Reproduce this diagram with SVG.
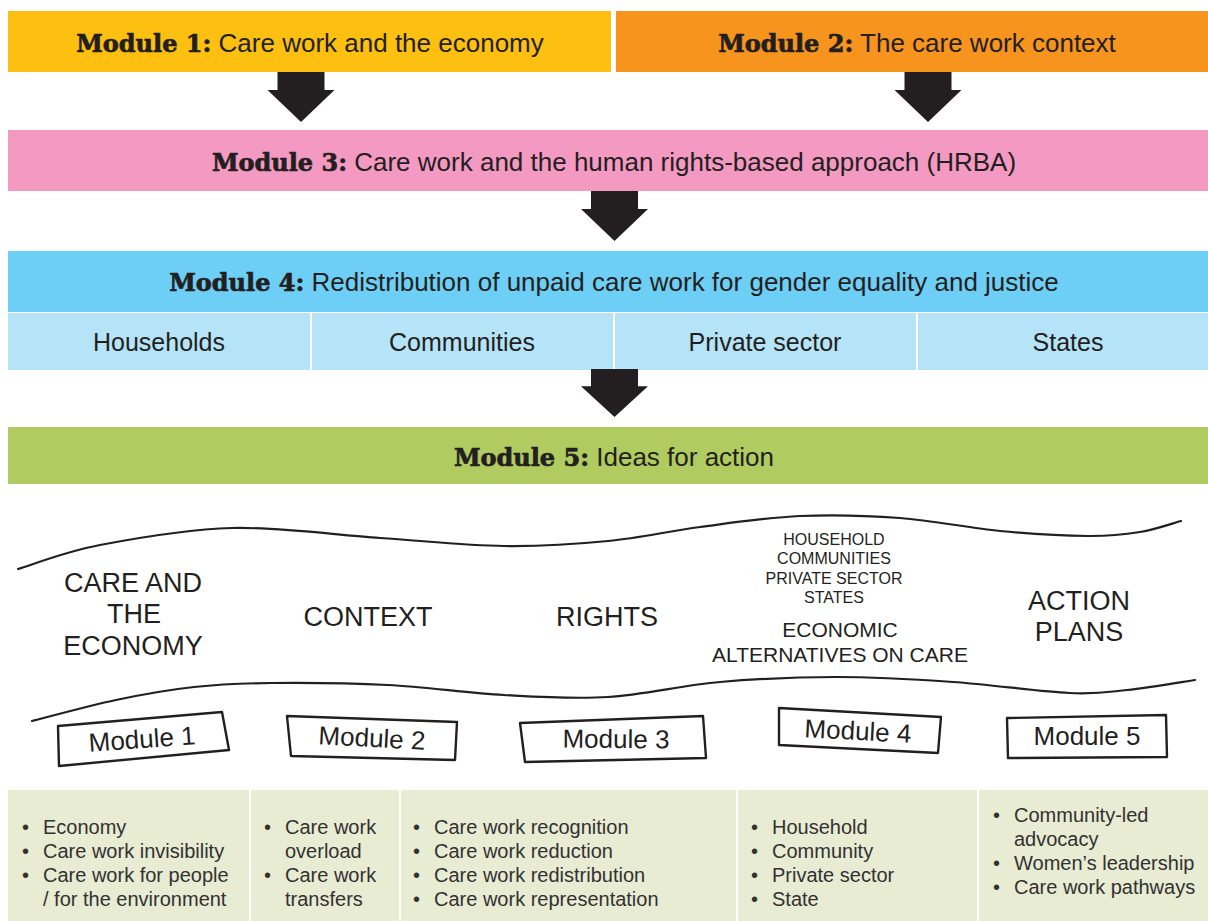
<svg xmlns="http://www.w3.org/2000/svg" width="1208" height="921" viewBox="0 0 1208 921">
<style>
.hd{font-family:"Liberation Sans",Arial,sans-serif;font-size:26px;fill:#231F20}
.hb{font-family:"DejaVu Serif",serif;font-weight:bold;font-size:24px;stroke:#231F20;stroke-width:0.7}
.sub{font-family:"Liberation Sans",Arial,sans-serif;font-size:25px;fill:#231F20;text-anchor:middle}
.hand{font-family:"Liberation Sans",Arial,sans-serif;fill:#231F20;text-anchor:middle}
.wave{fill:none;stroke:#231F20;stroke-width:2.2;stroke-linecap:round;stroke-linejoin:round}
.box{fill:#fff;stroke:#231F20;stroke-width:2.4;stroke-linejoin:round}
.lst{font-family:"Liberation Sans",Arial,sans-serif;font-size:20px;fill:#333132}
.div{stroke:#fff;stroke-width:2}
</style>
<defs>
<path id="arr" d="M-23.5,0 H23.5 V18 H33.5 L0,50 L-33.5,18 H-23.5 Z" fill="#231F20"/>
</defs>

<g id="module1">
<rect x="8" y="11" width="603" height="61" fill="#FDC010"/>
<text class="hd" x="310" y="51.5" text-anchor="middle"><tspan class="hb">Module 1:</tspan> Care work and the economy</text>
</g>
<g id="module2">
<rect x="616" y="11" width="592" height="61" fill="#F7941E"/>
<text class="hd" x="917" y="51.5" text-anchor="middle"><tspan class="hb">Module 2:</tspan> The care work context</text>
</g>
<g id="module3">
<rect x="8" y="130" width="1200" height="61" fill="#F49AC2"/>
<text class="hd" x="614" y="170.5" text-anchor="middle"><tspan class="hb">Module 3:</tspan> Care work and the human rights-based approach (HRBA)</text>
</g>
<g id="module4">
<rect x="8" y="251" width="1200" height="61" fill="#6DCFF6"/>
<text class="hd" x="614" y="291" text-anchor="middle"><tspan class="hb">Module 4:</tspan> Redistribution of unpaid care work for gender equality and justice</text>
<rect x="8" y="313" width="1200" height="57" fill="#B5E4F8"/>
<line class="div" x1="311" y1="313" x2="311" y2="370"/>
<line class="div" x1="614" y1="313" x2="614" y2="370"/>
<line class="div" x1="917" y1="313" x2="917" y2="370"/>
<text class="sub" x="159" y="351">Households</text>
<text class="sub" x="462" y="351">Communities</text>
<text class="sub" x="765" y="351">Private sector</text>
<text class="sub" x="1068" y="351">States</text>
</g>
<g id="module5">
<rect x="8" y="427" width="1200" height="57" fill="#B0CB5F"/>
<text class="hd" x="614" y="466" text-anchor="middle"><tspan class="hb">Module 5:</tspan> Ideas for action</text>
</g>

<g id="connectors">
<use href="#arr" transform="translate(301,72)"/>
<use href="#arr" transform="translate(928,72)"/>
<use href="#arr" transform="translate(614.5,191)"/>
<use href="#arr" transform="translate(614.5,369) scale(1,0.96)"/>
</g>

<g id="sketch">
<path class="wave" d="M18,569 C31.7,565 64.3,551.8 100,545 C135.7,538.2 185.3,529.2 232,528 C278.7,526.8 334.7,535 380,538 C425.3,541 466,545.5 504,546 C542,546.5 575.3,544.2 608,541 C640.7,537.8 668,531.2 700,527 C732,522.8 766.7,517.5 800,516 C833.3,514.5 866.7,515.5 900,518 C933.3,520.5 968.7,528 1000,531 C1031.3,534 1064.7,535.8 1088,536 C1111.3,536.2 1124.5,534.5 1140,532 C1155.5,529.5 1174.2,522.8 1181,521"/>
<path class="wave" d="M32,721 C46,717.5 89,705.7 116,700 C143,694.3 168.2,689.8 194,687 C219.8,684.2 238.7,683.3 271,683 C303.3,682.7 349.2,683 388,685 C426.8,687 467.3,693 504,695 C540.7,697 572,699.2 608,697 C644,694.8 682,685.3 720,682 C758,678.7 797.2,677 836,677 C874.8,677 914.2,679.3 953,682 C991.8,684.7 1040,691.7 1069,693 C1098,694.3 1106,692.2 1127,690 C1148,687.8 1183.7,681.7 1195,680"/>
<text class="hand" font-size="27" x="133" y="592">CARE AND</text>
<text class="hand" font-size="27" x="134" y="623">THE</text>
<text class="hand" font-size="27" x="133" y="655">ECONOMY</text>
<text class="hand" font-size="27" x="368" y="626">CONTEXT</text>
<text class="hand" font-size="27" x="607" y="626">RIGHTS</text>
<text class="hand" font-size="16" x="834" y="545">HOUSEHOLD</text>
<text class="hand" font-size="16" x="834" y="564">COMMUNITIES</text>
<text class="hand" font-size="16" x="834" y="584">PRIVATE SECTOR</text>
<text class="hand" font-size="16" x="834" y="603">STATES</text>
<text class="hand" font-size="21" x="840" y="637">ECONOMIC</text>
<text class="hand" font-size="21" x="840" y="662">ALTERNATIVES ON CARE</text>
<text class="hand" font-size="27" x="1079" y="610">ACTION</text>
<text class="hand" font-size="27" x="1079" y="641">PLANS</text>
</g>

<g id="label1">
<path class="box" d="M58,726 L222,712 L229,750 L59,766 Z"/>
<text class="hand" font-size="26" transform="translate(142,739) rotate(-4)" y="9">Module 1</text>
</g>
<g id="label2">
<path class="box" d="M287,716 L457,722 L455,760 L291,756 Z"/>
<text class="hand" font-size="26" transform="translate(372,738) rotate(3)" y="9">Module 2</text>
</g>
<g id="label3">
<path class="box" d="M520,723 L703,716 L706,758 L525,762 Z"/>
<text class="hand" font-size="26" transform="translate(616,739) rotate(0.5)" y="9">Module 3</text>
</g>
<g id="label4">
<path class="box" d="M779,708 L941,717 L938,753 L779,745 Z"/>
<text class="hand" font-size="26" transform="translate(858,731) rotate(3)" y="9">Module 4</text>
</g>
<g id="label5">
<path class="box" d="M1007,718 L1166,715 L1167,757 L1008,758 Z"/>
<text class="hand" font-size="26" transform="translate(1087,736)" y="9">Module 5</text>
</g>

<g id="table">
<rect x="8" y="790" width="1200" height="131" fill="#E7ECD3"/>
<line class="div" x1="250" y1="790" x2="250" y2="921"/>
<line class="div" x1="400" y1="790" x2="400" y2="921"/>
<line class="div" x1="737" y1="790" x2="737" y2="921"/>
<line class="div" x1="978" y1="790" x2="978" y2="921"/>
<g class="lst">
<text x="22" y="834">•</text><text x="43" y="834">Economy</text>
<text x="22" y="858">•</text><text x="43" y="858">Care work invisibility</text>
<text x="22" y="882">•</text><text x="43" y="882">Care work for people</text>
<text x="43" y="906">/ for the environment</text>

<text x="264" y="834">•</text><text x="285" y="834">Care work</text>
<text x="285" y="858">overload</text>
<text x="264" y="882">•</text><text x="285" y="882">Care work</text>
<text x="285" y="906">transfers</text>

<text x="413" y="834">•</text><text x="434" y="834">Care work recognition</text>
<text x="413" y="858">•</text><text x="434" y="858">Care work reduction</text>
<text x="413" y="882">•</text><text x="434" y="882">Care work redistribution</text>
<text x="413" y="906">•</text><text x="434" y="906">Care work representation</text>

<text x="751" y="834">•</text><text x="772" y="834">Household</text>
<text x="751" y="858">•</text><text x="772" y="858">Community</text>
<text x="751" y="882">•</text><text x="772" y="882">Private sector</text>
<text x="751" y="906">•</text><text x="772" y="906">State</text>

<text x="993" y="822">•</text><text x="1014" y="822">Community-led</text>
<text x="1014" y="846">advocacy</text>
<text x="993" y="870">•</text><text x="1014" y="870">Women’s leadership</text>
<text x="993" y="894">•</text><text x="1014" y="894">Care work pathways</text>
</g>
</g>
</svg>
